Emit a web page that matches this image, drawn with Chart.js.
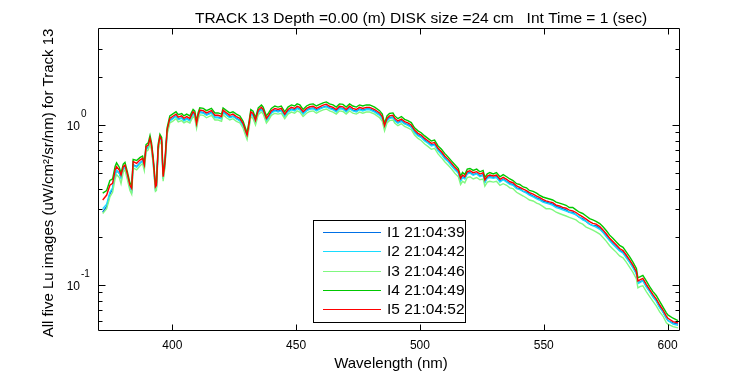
<!DOCTYPE html>
<html>
<head>
<meta charset="utf-8">
<script src="https://cdn.jsdelivr.net/npm/chart.js@4/dist/chart.umd.min.js"></script>
<style>html,body{margin:0;background:#fff}canvas{display:block}</style>
</head>
<body>
<canvas id="c" width="750" height="375"></canvas>
<script>
// Lu spectra, track 13 — five images, log y
const wavelength = [
  371.9, 373.5, 374.8, 375.9, 376.9, 377.5, 378.6, 379.3, 380.2, 380.9,
  381.8, 382.9, 383.6, 384.2, 385.6, 386.9, 388.0, 388.7, 389.4, 390.3,
  391.0, 391.6, 392.3, 393.2, 393.6, 394.3, 395.0, 395.7, 396.3, 397.0,
  397.9, 399.0, 400.1, 401.5, 402.4, 403.8, 404.7, 405.8, 407.1, 408.4,
  409.1, 409.8, 410.4, 411.1, 412.5, 413.8, 415.8, 417.2, 418.5, 419.9,
  420.5, 421.9, 423.2, 424.5, 425.9, 427.3, 428.6, 429.7, 430.2, 431.0,
  431.7, 432.6, 433.6, 434.7, 436.0, 436.7, 438.0, 438.9, 440.0, 441.4,
  442.7, 444.0, 445.4, 446.7, 448.1, 449.4, 450.4, 451.5, 452.8, 454.2,
  455.5, 456.9, 458.2, 459.5, 460.9, 462.2, 463.5, 464.9, 466.2, 467.5,
  468.9, 470.2, 471.6, 472.9, 474.3, 475.6, 476.9, 478.3, 479.7, 481.7,
  483.7, 484.8, 485.7, 486.7, 487.7, 489.1, 489.8, 491.1, 492.5, 493.8,
  495.1, 496.5, 497.8, 499.2, 500.5, 501.9, 503.2, 504.6, 505.9, 507.3,
  508.7, 510.0, 511.4, 512.8, 514.1, 515.5, 516.4, 517.2, 518.1, 519.1,
  520.2, 521.5, 522.9, 524.2, 525.5, 526.2, 527.2, 528.2, 529.6, 530.9,
  532.3, 533.6, 535.0, 536.3, 537.6, 539.0, 540.3, 541.7, 543.0, 544.2,
  545.7, 547.1, 548.2, 549.6, 550.9, 552.3, 553.6, 555.0, 556.3, 557.6,
  559.0, 560.3, 561.7, 563.0, 564.4, 565.7, 567.1, 568.5, 569.8, 571.1,
  572.6, 573.9, 575.2, 576.6, 577.9, 579.3, 580.6, 582.0, 583.3, 584.7,
  586.0, 587.4, 588.0, 589.0, 590.0, 591.4, 592.7, 594.1, 595.4, 596.8,
  598.1, 599.5, 600.1, 602.2, 604.2
];

const i1 = [
  0.285, 0.31, 0.37, 0.40, 0.49, 0.52, 0.50, 0.47, 0.535, 0.55,
  0.485, 0.41, 0.39, 0.565, 0.55, 0.58, 0.60, 0.545, 0.71, 0.73,
  0.80, 0.73, 0.59, 0.40, 0.41, 0.715, 0.825, 0.785, 0.465, 0.56,
  0.905, 1.07, 1.10, 1.14, 1.09, 1.11, 1.07, 1.10, 1.07, 1.18,
  1.15, 0.995, 1.12, 1.21, 1.20, 1.16, 1.20, 1.12, 1.12, 1.10,
  1.21, 1.16, 1.12, 1.14, 1.10, 1.07, 0.995, 0.885, 0.845, 0.995,
  1.18, 1.15, 1.045, 1.21, 1.26, 1.22, 1.07, 1.12, 1.20, 1.24,
  1.22, 1.24, 1.14, 1.22, 1.26, 1.24, 1.28, 1.26, 1.18, 1.24,
  1.27, 1.28, 1.24, 1.27, 1.295, 1.315, 1.28, 1.26, 1.22, 1.28,
  1.27, 1.22, 1.28, 1.24, 1.22, 1.26, 1.24, 1.26, 1.26, 1.22,
  1.16, 1.10, 0.965, 1.07, 1.11, 1.12, 1.07, 1.035, 1.065, 1.025,
  1.005, 0.975, 0.905, 0.865, 0.845, 0.805, 0.78, 0.75, 0.755, 0.70,
  0.665, 0.625, 0.595, 0.56, 0.53, 0.505, 0.45, 0.475, 0.465, 0.50,
  0.505, 0.49, 0.50, 0.48, 0.49, 0.44, 0.47, 0.475, 0.47, 0.475,
  0.445, 0.46, 0.445, 0.43, 0.425, 0.405, 0.40, 0.385, 0.38, 0.37,
  0.36, 0.35, 0.345, 0.335, 0.33, 0.325, 0.32, 0.31, 0.305, 0.30,
  0.295, 0.285, 0.285, 0.275, 0.265, 0.26, 0.25, 0.24, 0.235, 0.235,
  0.226, 0.215, 0.204, 0.191, 0.182, 0.173, 0.165, 0.160, 0.150, 0.139,
  0.130, 0.118, 0.103, 0.105, 0.107, 0.098, 0.092, 0.085, 0.080, 0.073,
  0.068, 0.062, 0.060, 0.058, 0.057
];

const i2 = [
  0.30, 0.32, 0.38, 0.405, 0.49, 0.52, 0.50, 0.465, 0.53, 0.545,
  0.48, 0.405, 0.385, 0.56, 0.545, 0.575, 0.595, 0.54, 0.705, 0.72,
  0.795, 0.72, 0.58, 0.395, 0.405, 0.705, 0.815, 0.775, 0.46, 0.555,
  0.895, 1.06, 1.09, 1.13, 1.08, 1.10, 1.06, 1.09, 1.06, 1.17,
  1.14, 0.985, 1.11, 1.195, 1.185, 1.15, 1.185, 1.11, 1.11, 1.09,
  1.195, 1.15, 1.11, 1.13, 1.09, 1.06, 0.985, 0.875, 0.835, 0.985,
  1.17, 1.14, 1.03, 1.195, 1.245, 1.205, 1.06, 1.11, 1.185, 1.225,
  1.205, 1.225, 1.13, 1.205, 1.245, 1.225, 1.265, 1.245, 1.17, 1.225,
  1.255, 1.265, 1.225, 1.255, 1.285, 1.30, 1.265, 1.245, 1.205, 1.265,
  1.255, 1.205, 1.265, 1.225, 1.205, 1.245, 1.225, 1.245, 1.245, 1.205,
  1.15, 1.09, 0.955, 1.06, 1.10, 1.11, 1.06, 1.025, 1.05, 1.015,
  0.995, 0.965, 0.895, 0.855, 0.835, 0.795, 0.77, 0.74, 0.75, 0.69,
  0.655, 0.615, 0.59, 0.555, 0.525, 0.50, 0.445, 0.47, 0.46, 0.495,
  0.50, 0.485, 0.495, 0.475, 0.485, 0.435, 0.465, 0.47, 0.465, 0.47,
  0.44, 0.455, 0.44, 0.425, 0.42, 0.40, 0.395, 0.385, 0.375, 0.365,
  0.355, 0.345, 0.34, 0.33, 0.325, 0.32, 0.315, 0.305, 0.30, 0.295,
  0.29, 0.285, 0.28, 0.275, 0.265, 0.255, 0.25, 0.24, 0.235, 0.23,
  0.223, 0.213, 0.201, 0.189, 0.180, 0.171, 0.163, 0.158, 0.148, 0.138,
  0.128, 0.117, 0.102, 0.104, 0.106, 0.097, 0.091, 0.084, 0.079, 0.072,
  0.068, 0.062, 0.060, 0.057, 0.056
];

const i3 = [
  0.28, 0.30, 0.355, 0.38, 0.46, 0.49, 0.47, 0.43, 0.51, 0.525,
  0.46, 0.39, 0.37, 0.54, 0.525, 0.555, 0.575, 0.52, 0.68, 0.70,
  0.77, 0.70, 0.565, 0.385, 0.39, 0.685, 0.79, 0.755, 0.445, 0.54,
  0.87, 1.03, 1.055, 1.095, 1.045, 1.065, 1.03, 1.055, 1.03, 1.13,
  1.10, 0.955, 1.075, 1.16, 1.15, 1.11, 1.15, 1.075, 1.075, 1.055,
  1.16, 1.11, 1.075, 1.095, 1.055, 1.03, 0.955, 0.85, 0.81, 0.955,
  1.13, 1.10, 1.00, 1.16, 1.205, 1.17, 1.03, 1.075, 1.15, 1.185,
  1.17, 1.185, 1.095, 1.17, 1.205, 1.185, 1.225, 1.205, 1.13, 1.185,
  1.215, 1.225, 1.185, 1.215, 1.245, 1.26, 1.225, 1.205, 1.17, 1.225,
  1.215, 1.17, 1.225, 1.185, 1.17, 1.205, 1.185, 1.205, 1.205, 1.17,
  1.11, 1.055, 0.92, 1.03, 1.065, 1.075, 1.03, 0.99, 1.02, 0.98,
  0.96, 0.935, 0.865, 0.825, 0.80, 0.76, 0.735, 0.705, 0.715, 0.66,
  0.625, 0.59, 0.56, 0.53, 0.50, 0.475, 0.425, 0.445, 0.435, 0.47,
  0.475, 0.46, 0.47, 0.455, 0.46, 0.415, 0.44, 0.445, 0.44, 0.445,
  0.42, 0.43, 0.42, 0.405, 0.40, 0.38, 0.37, 0.36, 0.35, 0.34,
  0.335, 0.325, 0.32, 0.31, 0.30, 0.30, 0.295, 0.285, 0.28, 0.275,
  0.27, 0.265, 0.26, 0.255, 0.245, 0.24, 0.23, 0.225, 0.22, 0.215,
  0.208, 0.198, 0.188, 0.176, 0.168, 0.160, 0.152, 0.148, 0.139, 0.129,
  0.120, 0.109, 0.096, 0.098, 0.099, 0.091, 0.085, 0.079, 0.074, 0.068,
  0.064, 0.058, 0.057, 0.055, 0.054
];

const i4 = [
  0.375, 0.39, 0.45, 0.46, 0.55, 0.58, 0.545, 0.50, 0.57, 0.585,
  0.515, 0.435, 0.415, 0.61, 0.60, 0.625, 0.64, 0.58, 0.755, 0.775,
  0.86, 0.775, 0.625, 0.43, 0.435, 0.76, 0.875, 0.835, 0.49, 0.595,
  0.96, 1.14, 1.17, 1.21, 1.16, 1.18, 1.14, 1.17, 1.14, 1.25,
  1.22, 1.055, 1.19, 1.28, 1.27, 1.23, 1.27, 1.19, 1.19, 1.17,
  1.28, 1.23, 1.19, 1.21, 1.17, 1.14, 1.055, 0.94, 0.895, 1.055,
  1.25, 1.22, 1.11, 1.28, 1.335, 1.295, 1.14, 1.19, 1.27, 1.315,
  1.295, 1.315, 1.21, 1.295, 1.335, 1.315, 1.355, 1.335, 1.25, 1.315,
  1.345, 1.355, 1.315, 1.345, 1.375, 1.395, 1.355, 1.335, 1.295, 1.355,
  1.345, 1.295, 1.355, 1.315, 1.295, 1.335, 1.315, 1.335, 1.335, 1.295,
  1.23, 1.17, 1.025, 1.14, 1.18, 1.19, 1.14, 1.095, 1.13, 1.085,
  1.065, 1.035, 0.96, 0.92, 0.895, 0.855, 0.825, 0.795, 0.805, 0.74,
  0.705, 0.665, 0.63, 0.595, 0.565, 0.535, 0.48, 0.505, 0.49, 0.53,
  0.535, 0.52, 0.53, 0.51, 0.52, 0.47, 0.495, 0.505, 0.495, 0.505,
  0.475, 0.49, 0.475, 0.46, 0.45, 0.43, 0.425, 0.41, 0.405, 0.39,
  0.385, 0.375, 0.365, 0.355, 0.35, 0.345, 0.34, 0.33, 0.325, 0.32,
  0.315, 0.305, 0.305, 0.295, 0.285, 0.28, 0.27, 0.26, 0.255, 0.25,
  0.242, 0.231, 0.219, 0.205, 0.196, 0.186, 0.177, 0.172, 0.161, 0.150,
  0.139, 0.127, 0.111, 0.113, 0.115, 0.106, 0.098, 0.091, 0.086, 0.079,
  0.073, 0.067, 0.065, 0.062, 0.060
];

const i5 = [
  0.340, 0.365, 0.42, 0.432, 0.523, 0.549, 0.523, 0.487, 0.549, 0.562,
  0.499, 0.42, 0.402, 0.590, 0.576, 0.604, 0.619, 0.562, 0.732, 0.750,
  0.825, 0.75, 0.604, 0.411, 0.42, 0.732, 0.846, 0.806, 0.475, 0.576,
  0.930, 1.10, 1.13, 1.17, 1.12, 1.14, 1.10, 1.13, 1.10, 1.21,
  1.18, 1.02, 1.15, 1.24, 1.23, 1.19, 1.23, 1.15, 1.15, 1.13,
  1.24, 1.19, 1.15, 1.17, 1.13, 1.10, 1.02, 0.908, 0.866, 1.02,
  1.21, 1.18, 1.07, 1.24, 1.29, 1.25, 1.10, 1.15, 1.23, 1.27,
  1.25, 1.27, 1.17, 1.25, 1.29, 1.27, 1.31, 1.29, 1.21, 1.27,
  1.30, 1.31, 1.27, 1.30, 1.33, 1.35, 1.31, 1.29, 1.25, 1.31,
  1.30, 1.25, 1.31, 1.27, 1.25, 1.29, 1.27, 1.29, 1.29, 1.25,
  1.19, 1.13, 0.99, 1.10, 1.14, 1.15, 1.10, 1.06, 1.09, 1.05,
  1.03, 1.00, 0.930, 0.887, 0.866, 0.825, 0.798, 0.768, 0.776, 0.715,
  0.681, 0.640, 0.610, 0.576, 0.544, 0.518, 0.464, 0.487, 0.475, 0.511,
  0.518, 0.504, 0.511, 0.494, 0.504, 0.453, 0.480, 0.487, 0.480, 0.487,
  0.458, 0.471, 0.458, 0.442, 0.436, 0.416, 0.408, 0.397, 0.389, 0.378,
  0.370, 0.360, 0.353, 0.343, 0.336, 0.331, 0.327, 0.316, 0.312, 0.306,
  0.302, 0.294, 0.291, 0.284, 0.274, 0.267, 0.258, 0.249, 0.243, 0.240,
  0.232, 0.221, 0.209, 0.196, 0.187, 0.178, 0.169, 0.164, 0.154, 0.143,
  0.133, 0.121, 0.106, 0.108, 0.110, 0.101, 0.094, 0.087, 0.082, 0.075,
  0.070, 0.064, 0.062, 0.059, 0.058
];

const seriesLabels = ["I1 21:04:39", "I2 21:04:42", "I3 21:04:46", "I4 21:04:49", "I5 21:04:52"];
const seriesColors = ["#0070e6", "#18dcff", "#80f880", "#00c800", "#ff0000"];

const xTicks = [400, 450, 500, 550, 600];
const yMajor = [0.1, 1];
const yMajorExp = ["-1", "0"];
const yMinor = [0.06, 0.07, 0.08, 0.09, 0.2, 0.3, 0.4, 0.5, 0.6, 0.7, 0.8, 0.9, 2, 3];

const titleText = "TRACK 13 Depth =0.00 (m) DISK size =24 cm   Int Time = 1 (sec)";
const xTitle = "Wavelength (nm)";
const yTitle = "All five Lu images (uW/cm\u00b2/sr/nm) for Track 13";

const FONT = '"Liberation Sans", Arial, Helvetica, sans-serif';
const series = [i1, i2, i3, i4, i5];

const datasets = series.map((s, k) => ({
  label: seriesLabels[k],
  data: wavelength.map((w, n) => ({ x: w, y: s[n] })),
  borderColor: seriesColors[k],
  backgroundColor: seriesColors[k],
  borderWidth: 1.4,
  pointRadius: 0,
  tension: 0,
  fill: false,
  order: 5 - k          // I5 drawn last, on top
}));

// MATLAB-ish boxed axes: inward ticks, 10^n labels, inset legend
const matlabAxes = {
  id: "matlabAxes",
  afterDraw(chart) {
    const { ctx, chartArea: a, scales: { x, y } } = chart;
    const L = Math.round(a.left) + 0.5, R = Math.round(a.right) - 0.5;
    const T = Math.round(a.top) + 0.5, B = Math.round(a.bottom) - 0.5;
    ctx.save();
    ctx.strokeStyle = "#000"; ctx.lineWidth = 1; ctx.fillStyle = "#000";
    ctx.beginPath();
    ctx.rect(L, T, R - L, B - T);
    xTicks.forEach(v => {
      const px = Math.round(x.getPixelForValue(v)) + 0.5;
      ctx.moveTo(px, B); ctx.lineTo(px, B - 6);
      ctx.moveTo(px, T); ctx.lineTo(px, T + 6);
    });
    const yt = (v, len) => {
      const py = Math.round(y.getPixelForValue(v)) + 0.5;
      ctx.moveTo(L, py); ctx.lineTo(L + len, py);
      ctx.moveTo(R, py); ctx.lineTo(R - len, py);
    };
    yMajor.forEach(v => yt(v, 7));
    yMinor.forEach(v => yt(v, 4));
    ctx.stroke();

    // tick labels
    ctx.font = "12px " + FONT;
    ctx.textAlign = "center"; ctx.textBaseline = "alphabetic";
    xTicks.forEach(v => ctx.fillText(String(v), x.getPixelForValue(v), 349));
    yMajor.forEach((v, k) => {
      const py = y.getPixelForValue(v);
      ctx.font = "12px " + FONT; ctx.textAlign = "right";
      ctx.fillText("10", 80, py + 5);
      ctx.font = "10px " + FONT; ctx.textAlign = "left";
      ctx.fillText(yMajorExp[k], 81, py - 8);
    });

    // titles
    ctx.font = "15.5px " + FONT; ctx.textAlign = "center";
    ctx.fillText(titleText, 421, 23);
    ctx.font = "15px " + FONT;
    ctx.fillText(xTitle, 391, 368);
    ctx.save();
    ctx.translate(53, 183); ctx.rotate(-Math.PI / 2);
    ctx.fillText(yTitle, 0, 0);
    ctx.restore();

    // legend
    ctx.fillStyle = "#fff";
    ctx.fillRect(313, 220, 152, 102);
    ctx.strokeStyle = "#000";
    ctx.strokeRect(313.5, 220.5, 152, 102);
    ctx.font = "15.5px " + FONT; ctx.textAlign = "left"; ctx.textBaseline = "middle";
    seriesLabels.forEach((lab, k) => {
      const ry = Math.round(232 + k * 19.25) + 0.5;
      ctx.strokeStyle = seriesColors[k]; ctx.lineWidth = 1;
      ctx.beginPath(); ctx.moveTo(323, ry); ctx.lineTo(381, ry); ctx.stroke();
      ctx.fillStyle = "#000";
      ctx.fillText(lab, 387, ry + 0.5);
    });
    ctx.restore();
  }
};

new Chart(document.getElementById("c"), {
  type: "line",
  data: { datasets },
  options: {
    responsive: false,
    animation: false,
    devicePixelRatio: 1,
    layout: { padding: { left: 98, right: 70, top: 28, bottom: 44 } },
    plugins: { legend: { display: false }, tooltip: { enabled: false }, title: { display: false } },
    scales: {
      x: { type: "linear", min: 370, max: 605, display: false },
      y: { type: "logarithmic", min: 0.0516, max: 4.04, display: false }
    }
  },
  plugins: [matlabAxes]
});
</script>
</body>
</html>
